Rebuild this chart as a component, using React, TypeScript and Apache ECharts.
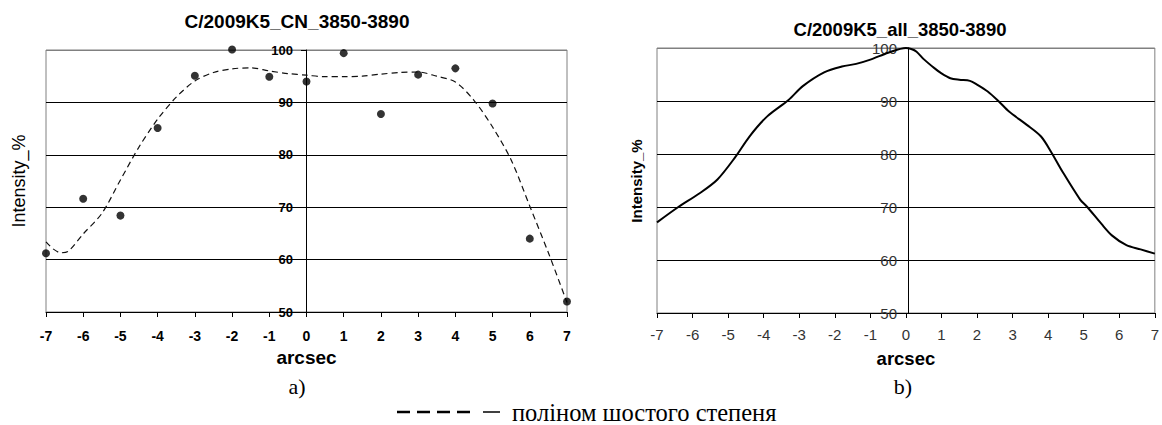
import React, { useEffect, useRef } from "react";
import * as echarts from "echarts";

// ---- Data ----
const cnX = [-7, -6, -5, -4, -3, -2, -1, 0, 1, 2, 3, 4, 5, 6, 7];
const cnY = [61.2, 71.6, 68.4, 85.1, 95.1, 100.1, 94.9, 94.0, 99.4, 87.8, 95.3, 96.5, 89.8, 64.0, 52.0];

const polyX = [-7, -6.8, -6.6, -6.4, -6, -5.5, -5, -4.5, -4, -3.5, -3, -2.5, -2, -1.5, -1, -0.5, 0, 0.5, 1, 1.5, 2, 2.5, 3, 3.5, 4, 4.5, 5, 5.5, 6, 6.5, 7];
const polyY = [63.4, 62.0, 61.3, 61.6, 64.9, 68.8, 75.2, 81.5, 86.8, 91.0, 94.1, 95.7, 96.4, 96.6, 96.0, 95.5, 95.2, 94.9, 94.9, 95.0, 95.4, 95.7, 95.8, 95.0, 93.9, 90.4, 85.3, 79.0, 70.2, 61.3, 51.8];

const allX = [-7, -6.4, -5.8, -5.3, -4.8, -4.4, -3.9, -3.3, -2.9, -2.3, -1.8, -1.4, -1, -0.5, 0, 0.15, 0.3, 0.5, 0.8, 1, 1.25, 1.5, 1.8, 2, 2.3, 2.6, 2.9, 3.4, 3.8, 4.1, 4.4, 4.9, 5.1, 5.5, 5.8, 6.2, 6.6, 7];
const allY = [67.1, 70.0, 72.6, 75.2, 79.4, 83.3, 87.1, 90.2, 92.8, 95.4, 96.5, 97.0, 97.8, 99.1, 100, 99.8, 99.3, 97.9, 96.2, 95.2, 94.3, 94.0, 93.8, 93.1, 91.8, 90.0, 88.0, 85.5, 83.3, 80.2, 76.7, 71.4, 70.0, 66.8, 64.6, 62.8, 62.0, 61.2];

const titleA = "C/2009K5_CN_3850-3890";
const titleB = "C/2009K5_all_3850-3890";
const yName = "Intensity_%";
const xName = "arcsec";
const captionText = "поліном шостого степеня";

const SANS = "Arial, 'Liberation Sans', sans-serif";
const SERIF = "'Times New Roman', 'Liberation Serif', serif";

function buildOption(): any {
  const gridLineColors = ["#000", "#000", "#000", "#000", "#000", "#808080"];
  return {
    animation: false,
    backgroundColor: "#fff",
    grid: [
      { left: 46, top: 50, width: 521, height: 262, show: true, borderColor: "#808080", borderWidth: 1 },
      { left: 657, top: 48, width: 502, height: 265, show: true, borderColor: "#808080", borderWidth: 1 },
    ],
    xAxis: [
      {
        gridIndex: 0, type: "value", min: -7, max: 7, interval: 1,
        axisLine: { onZero: false, lineStyle: { color: "#000", width: 1 } },
        axisTick: { show: true, length: 5, lineStyle: { color: "#000" } },
        axisLabel: { fontFamily: SANS, fontSize: 14, fontWeight: "bold", color: "#000", margin: 17 },
        splitLine: { show: false },
        name: xName, nameLocation: "middle", nameGap: 33,
        nameTextStyle: { fontFamily: SANS, fontSize: 19, fontWeight: "bold", color: "#000" },
      },
      {
        gridIndex: 1, type: "value", min: -7, max: 7, interval: 1,
        axisLine: { onZero: false, lineStyle: { color: "#000", width: 1 } },
        axisTick: { show: true, length: 5, lineStyle: { color: "#000" } },
        axisLabel: { fontFamily: SANS, fontSize: 15, color: "#333", margin: 14 },
        splitLine: { show: false },
        name: xName, nameLocation: "middle", nameGap: 36,
        nameTextStyle: { fontFamily: SANS, fontSize: 18.5, fontWeight: "bold", color: "#000" },
      },
    ],
    yAxis: [
      {
        gridIndex: 0, type: "value", min: 50, max: 100, interval: 10,
        position: "left", offset: -260,
        axisLine: { show: true, onZero: false, lineStyle: { color: "#000", width: 1 } },
        axisTick: { show: true, length: 5, lineStyle: { color: "#000" } },
        axisLabel: { fontFamily: SANS, fontSize: 13, fontWeight: "bold", color: "#000", margin: 13 },
        splitLine: { show: true, lineStyle: { color: gridLineColors, width: 1 } },
      },
      {
        gridIndex: 1, type: "value", min: 50, max: 100, interval: 10,
        position: "left", offset: -251,
        axisLine: { show: true, onZero: false, lineStyle: { color: "#000", width: 1 } },
        axisTick: { show: false },
        axisLabel: { fontFamily: SANS, fontSize: 15, color: "#333", margin: 11 },
        splitLine: { show: true, lineStyle: { color: gridLineColors, width: 1 } },
      },
    ],
    series: [
      {
        type: "line", xAxisIndex: 0, yAxisIndex: 0,
        data: polyX.map((x, i) => [x, polyY[i]]),
        smooth: 0.3, symbol: "none",
        lineStyle: { color: "#111", width: 1.2, type: [6, 4] },
        z: 3,
      },
      {
        type: "scatter", xAxisIndex: 0, yAxisIndex: 0,
        data: cnX.map((x, i) => [x, cnY[i]]),
        symbol: "circle", symbolSize: 8, clip: false,
        itemStyle: { color: "#000" },
        z: 4,
      },
      {
        type: "line", xAxisIndex: 1, yAxisIndex: 1,
        data: allX.map((x, i) => [x, allY[i]]),
        smooth: 0.3, symbol: "none", clip: false,
        lineStyle: { color: "#000", width: 2 },
        z: 3,
      },
    ],
    graphic: [
      {
        type: "text", x: 297, y: 21,
        style: { text: titleA, fill: "#000", fontFamily: SANS, fontSize: 19, fontWeight: "bold", align: "center", verticalAlign: "middle", textAlign: "center", textVerticalAlign: "middle" },
      },
      {
        type: "text", x: 900, y: 29,
        style: { text: titleB, fill: "#000", fontFamily: SANS, fontSize: 18.5, fontWeight: "bold", align: "center", verticalAlign: "middle", textAlign: "center", textVerticalAlign: "middle" },
      },
      {
        type: "text", x: 19, y: 181, rotation: Math.PI / 2,
        style: { text: yName, fill: "#000", fontFamily: SANS, fontSize: 18, align: "center", verticalAlign: "middle", textAlign: "center", textVerticalAlign: "middle" },
      },
      {
        type: "text", x: 636, y: 181, rotation: Math.PI / 2,
        style: { text: yName, fill: "#000", fontFamily: SANS, fontSize: 15, fontWeight: "bold", align: "center", verticalAlign: "middle", textAlign: "center", textVerticalAlign: "middle" },
      },
      {
        type: "text", x: 297, y: 386,
        style: { text: "a)", fill: "#000", fontFamily: SERIF, fontSize: 22, align: "center", verticalAlign: "middle", textAlign: "center", textVerticalAlign: "middle" },
      },
      {
        type: "text", x: 903, y: 386,
        style: { text: "b)", fill: "#000", fontFamily: SERIF, fontSize: 22, align: "center", verticalAlign: "middle", textAlign: "center", textVerticalAlign: "middle" },
      },
      {
        type: "line", shape: { x1: 397, y1: 412, x2: 473, y2: 412 },
        style: { stroke: "#000", lineWidth: 2.5, lineDash: [13, 7] },
      },
      {
        type: "line", shape: { x1: 483, y1: 412, x2: 500, y2: 412 },
        style: { stroke: "#000", lineWidth: 1.5 },
      },
      {
        type: "text", x: 512, y: 412,
        style: { text: captionText, fill: "#000", fontFamily: SERIF, fontSize: 24.5, align: "left", verticalAlign: "middle", textAlign: "left", textVerticalAlign: "middle" },
      },
    ],
  };
}

export default function App() {
  const ref = useRef<HTMLDivElement>(null);
  useEffect(() => {
    if (!ref.current) return;
    const chart = echarts.init(ref.current, null, { renderer: "svg" });
    chart.setOption(buildOption());
    return () => chart.dispose();
  }, []);
  return (
    <div
      ref={ref}
      style={{ position: "fixed", left: 0, top: 0, width: 1162, height: 425, background: "#fff" }}
    />
  );
}
